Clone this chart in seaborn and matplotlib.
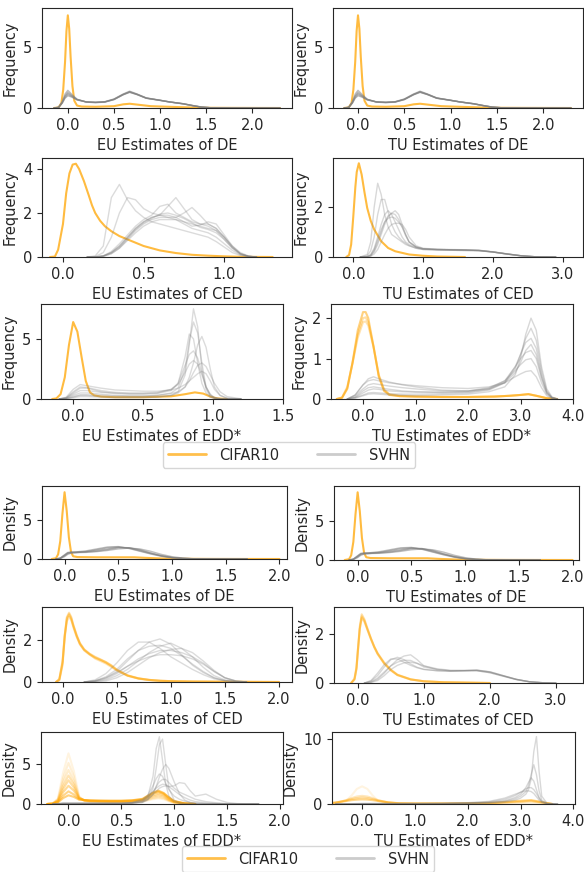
import seaborn as sns
import matplotlib.pyplot as plt
from matplotlib.lines import Line2D

# ---------- data (density values at x points) ----------
# DE, frequency group (EU and TU look the same)
de_f_orange_x = [-0.15, -0.1, -0.07, -0.05, -0.03, -0.015, 0.0, 0.015, 0.03, 0.05, 0.07, 0.1,
                 0.15, 0.3, 0.5, 0.6, 0.67, 0.75, 0.9, 1.1, 1.3, 1.5, 1.8, 2.3]
de_f_orange = [[0, 0.05, 0.4, 1.5, 3.8, 6.3, 7.6, 6.5, 4.2, 1.8, 0.6, 0.2,
                0.12, 0.1, 0.15, 0.3, 0.35, 0.28, 0.15, 0.1, 0.05, 0.02, 0.01, 0]]
de_f_grey_x = [-0.15, -0.1, -0.06, -0.03, 0.0, 0.04, 0.1, 0.2, 0.3, 0.4, 0.5, 0.6, 0.67, 0.75,
               0.85, 1.0, 1.1, 1.25, 1.35, 1.45, 1.55, 1.8, 2.3]
de_f_grey = [
    [0, 0.05, 0.4, 0.8, 1.0, 0.9, 0.65, 0.5, 0.47, 0.5, 0.7, 1.1, 1.3, 1.1, 0.8, 0.63, 0.5, 0.35, 0.2, 0.07, 0.02, 0.005, 0],
    [0, 0.05, 0.45, 0.95, 1.2, 1.0, 0.7, 0.5, 0.46, 0.5, 0.72, 1.12, 1.32, 1.12, 0.82, 0.63, 0.5, 0.34, 0.2, 0.07, 0.02, 0.005, 0],
    [0, 0.06, 0.55, 1.15, 1.45, 1.15, 0.72, 0.48, 0.44, 0.48, 0.68, 1.08, 1.28, 1.1, 0.8, 0.62, 0.5, 0.34, 0.2, 0.07, 0.02, 0.005, 0],
    [0, 0.05, 0.42, 0.85, 1.1, 0.95, 0.68, 0.5, 0.47, 0.52, 0.74, 1.15, 1.38, 1.15, 0.83, 0.64, 0.5, 0.35, 0.21, 0.08, 0.02, 0.005, 0],
    [0, 0.05, 0.48, 1.0, 1.3, 1.05, 0.7, 0.49, 0.45, 0.49, 0.7, 1.1, 1.34, 1.13, 0.81, 0.63, 0.5, 0.35, 0.2, 0.07, 0.02, 0.005, 0],
]

# EU CED, frequency
eu_ced_f_orange_x = [-0.08, -0.05, -0.03, 0.0, 0.02, 0.04, 0.06, 0.08, 0.1, 0.13, 0.16, 0.18, 0.2,
                     0.23, 0.26, 0.3, 0.35, 0.4, 0.5, 0.6, 0.7, 0.8, 0.9, 1.0, 1.1, 1.3]
eu_ced_f_orange = [[0, 0.02, 0.33, 1.5, 2.9, 3.8, 4.2, 4.24, 4.0, 3.45, 2.8, 2.35, 2.0,
                    1.65, 1.4, 1.17, 0.95, 0.8, 0.5, 0.3, 0.18, 0.1, 0.06, 0.03, 0.01, 0]]
eu_ced_f_grey_x = [0.15, 0.2, 0.25, 0.3, 0.35, 0.4, 0.45, 0.5, 0.55, 0.6, 0.65, 0.7, 0.75, 0.8,
                   0.85, 0.9, 0.95, 1.0, 1.05, 1.1, 1.15, 1.2]
eu_ced_f_grey = [
    [0, 0.05, 0.5, 2.7, 3.3, 2.6, 2.1, 1.8, 1.6, 1.5, 1.4, 1.3, 1.2, 1.1, 1.0, 0.9, 0.7, 0.45, 0.2, 0.07, 0.02, 0],
    [0, 0.02, 0.2, 0.9, 2.0, 2.7, 2.6, 2.2, 2.0, 1.9, 1.8, 1.7, 1.5, 1.3, 1.2, 1.1, 0.9, 0.6, 0.3, 0.1, 0.02, 0],
    [0, 0, 0.05, 0.2, 0.5, 0.9, 1.3, 1.6, 1.8, 1.9, 2.3, 2.7, 2.2, 1.7, 1.5, 1.4, 1.2, 0.8, 0.4, 0.15, 0.03, 0],
    [0, 0, 0.05, 0.25, 0.6, 1.0, 1.4, 1.7, 1.9, 2.3, 2.4, 2.0, 1.8, 1.6, 1.5, 1.5, 1.3, 0.9, 0.45, 0.15, 0.03, 0],
    [0, 0, 0.03, 0.15, 0.4, 0.8, 1.2, 1.5, 1.7, 1.8, 1.8, 1.8, 2.0, 2.25, 1.9, 1.5, 1.3, 0.9, 0.45, 0.15, 0.03, 0],
    [0, 0, 0.05, 0.2, 0.5, 0.9, 1.3, 1.6, 1.8, 1.9, 1.9, 1.8, 1.6, 1.4, 1.45, 1.6, 1.5, 1.0, 0.5, 0.15, 0.03, 0],
    [0, 0, 0.03, 0.15, 0.4, 0.75, 1.1, 1.4, 1.6, 1.7, 1.7, 1.7, 1.6, 1.5, 1.4, 1.3, 1.2, 0.9, 0.5, 0.2, 0.05, 0],
    [0, 0, 0.04, 0.2, 0.45, 0.85, 1.25, 1.55, 1.75, 1.95, 2.0, 1.9, 1.75, 1.55, 1.35, 1.25, 1.1, 0.8, 0.4, 0.12, 0.03, 0],
]

# TU CED, frequency
tu_ced_f_orange_x = [-0.1, -0.06, -0.03, 0.0, 0.03, 0.05, 0.08, 0.12, 0.16, 0.2, 0.25, 0.3, 0.4, 0.5,
                     0.6, 0.8, 1.0, 1.2, 1.6]
tu_ced_f_orange = [[0, 0.08, 0.5, 1.6, 2.8, 3.4, 3.75, 3.3, 2.6, 1.96, 1.45, 1.1, 0.63, 0.36,
                    0.23, 0.1, 0.05, 0.02, 0]]
tu_ced_f_grey_x = [0.1, 0.2, 0.25, 0.3, 0.35, 0.4, 0.45, 0.5, 0.55, 0.6, 0.65, 0.7, 0.75, 0.8,
                   0.9, 1.0, 1.2, 1.4, 1.6, 1.8, 2.0, 2.2, 2.4, 2.6, 2.9]
tu_ced_f_grey = [
    [0, 0.1, 0.6, 2.0, 2.95, 2.5, 1.7, 1.2, 0.9, 0.8, 0.7, 0.6, 0.5, 0.45, 0.35, 0.3, 0.28, 0.27, 0.26, 0.25, 0.2, 0.12, 0.05, 0.01, 0],
    [0, 0.05, 0.25, 0.8, 1.7, 2.3, 2.3, 1.8, 1.3, 1.0, 0.8, 0.65, 0.55, 0.45, 0.35, 0.3, 0.28, 0.27, 0.26, 0.25, 0.2, 0.12, 0.05, 0.01, 0],
    [0, 0.02, 0.1, 0.35, 0.8, 1.3, 1.7, 1.85, 1.7, 1.4, 1.1, 0.8, 0.6, 0.5, 0.38, 0.32, 0.3, 0.29, 0.28, 0.27, 0.2, 0.12, 0.05, 0.01, 0],
    [0, 0.01, 0.05, 0.2, 0.5, 0.9, 1.3, 1.6, 1.75, 1.85, 1.7, 1.3, 0.9, 0.6, 0.4, 0.33, 0.3, 0.29, 0.28, 0.26, 0.2, 0.12, 0.05, 0.01, 0],
    [0, 0.01, 0.08, 0.3, 0.7, 1.1, 1.4, 1.55, 1.6, 1.55, 1.4, 1.2, 0.9, 0.6, 0.4, 0.33, 0.3, 0.29, 0.28, 0.26, 0.2, 0.12, 0.05, 0.01, 0],
    [0, 0, 0.03, 0.12, 0.3, 0.6, 0.9, 1.15, 1.3, 1.35, 1.35, 1.3, 1.1, 0.8, 0.45, 0.35, 0.31, 0.3, 0.29, 0.27, 0.21, 0.13, 0.05, 0.01, 0],
    [0, 0.01, 0.05, 0.25, 0.6, 1.0, 1.4, 1.65, 1.75, 1.7, 1.5, 1.2, 0.85, 0.6, 0.4, 0.33, 0.3, 0.29, 0.28, 0.26, 0.2, 0.12, 0.05, 0.01, 0],
]

# EU EDD*, frequency
eu_edd_f_orange_x = [-0.15, -0.12, -0.09, -0.06, -0.03, 0.0, 0.03, 0.06, 0.09, 0.12, 0.15, 0.2,
                     0.3, 0.5, 0.7, 0.8, 0.87, 0.93, 0.98, 1.03, 1.1]
eu_edd_f_orange = [[0, 0.05, 0.4, 1.8, 4.5, 6.4, 5.6, 3.5, 1.5, 0.55, 0.3, 0.2,
                    0.15, 0.15, 0.22, 0.4, 0.55, 0.45, 0.2, 0.05, 0]]
eu_edd_f_grey_x = [-0.1, -0.05, 0.0, 0.05, 0.1, 0.2, 0.3, 0.4, 0.5, 0.6, 0.7, 0.75, 0.8, 0.83,
                   0.86, 0.89, 0.92, 0.95, 0.98, 1.01, 1.05, 1.1, 1.2]
eu_edd_f_grey = [
    [0, 0.02, 0.1, 0.2, 0.2, 0.15, 0.12, 0.12, 0.13, 0.15, 0.3, 0.6, 2.0, 4.5, 7.5, 6.0, 2.5, 0.8, 0.2, 0.05, 0.01, 0, 0],
    [0, 0.05, 0.3, 0.5, 0.5, 0.4, 0.3, 0.25, 0.25, 0.3, 0.5, 0.9, 2.5, 4.8, 6.4, 5.5, 3.0, 1.0, 0.3, 0.08, 0.02, 0, 0],
    [0, 0.1, 0.5, 0.9, 0.9, 0.6, 0.45, 0.4, 0.4, 0.45, 0.7, 1.3, 3.5, 5.4, 5.0, 3.0, 1.3, 0.5, 0.15, 0.05, 0.01, 0, 0],
    [0, 0.02, 0.15, 0.3, 0.3, 0.2, 0.15, 0.15, 0.15, 0.18, 0.3, 0.5, 1.0, 1.8, 3.0, 4.5, 5.2, 4.3, 2.5, 1.0, 0.3, 0.05, 0],
    [0, 0.08, 0.4, 0.7, 0.7, 0.55, 0.5, 0.45, 0.45, 0.5, 0.8, 1.3, 2.8, 3.7, 4.0, 3.4, 2.2, 1.0, 0.35, 0.1, 0.02, 0, 0],
    [0, 0.15, 0.8, 1.2, 1.1, 0.9, 0.75, 0.7, 0.65, 0.65, 0.75, 0.9, 1.2, 1.5, 1.8, 2.1, 2.3, 2.1, 1.5, 0.8, 0.3, 0.08, 0],
    [0, 0.1, 0.6, 1.0, 0.95, 0.7, 0.55, 0.5, 0.5, 0.55, 0.8, 1.2, 2.2, 2.9, 3.2, 2.9, 2.0, 1.0, 0.4, 0.12, 0.03, 0, 0],
    [0, 0.03, 0.2, 0.35, 0.35, 0.3, 0.25, 0.25, 0.25, 0.3, 0.45, 0.6, 1.0, 1.5, 2.2, 2.8, 3.0, 2.7, 2.0, 1.3, 0.6, 0.2, 0.02],
]

# TU EDD*, frequency
tu_edd_f_orange_x = [-0.5, -0.4, -0.3, -0.2, -0.1, 0.0, 0.05, 0.1, 0.2, 0.3, 0.4, 0.5, 0.7, 1.0,
                     1.5, 2.0, 2.5, 2.8, 3.0, 3.15, 3.3, 3.5, 3.7]
tu_edd_f_orange = [
    [0, 0.03, 0.25, 0.9, 1.7, 2.15, 2.15, 2.0, 1.3, 0.55, 0.2, 0.1, 0.07, 0.06, 0.05, 0.05, 0.06, 0.08, 0.1, 0.12, 0.08, 0.02, 0],
    [0, 0.03, 0.27, 0.9, 1.6, 2.0, 2.02, 1.9, 1.3, 0.58, 0.22, 0.11, 0.07, 0.06, 0.05, 0.05, 0.06, 0.08, 0.1, 0.12, 0.08, 0.02, 0],
    [0, 0.04, 0.3, 0.88, 1.52, 1.9, 1.92, 1.82, 1.28, 0.6, 0.24, 0.12, 0.08, 0.06, 0.05, 0.05, 0.06, 0.08, 0.1, 0.12, 0.08, 0.02, 0],
]
tu_edd_f_grey_x = [-0.3, -0.15, 0.0, 0.1, 0.2, 0.3, 0.5, 0.75, 1.0, 1.5, 2.0, 2.4, 2.7, 2.9, 3.0,
                   3.1, 3.2, 3.3, 3.4, 3.5, 3.6, 3.7]
tu_edd_f_grey = [
    [0, 0.02, 0.08, 0.12, 0.13, 0.12, 0.1, 0.09, 0.08, 0.1, 0.12, 0.18, 0.3, 0.6, 1.0, 1.6, 2.0, 1.7, 0.8, 0.25, 0.05, 0],
    [0, 0.03, 0.1, 0.15, 0.16, 0.15, 0.13, 0.12, 0.12, 0.13, 0.15, 0.22, 0.4, 0.75, 1.1, 1.5, 1.75, 1.45, 0.7, 0.2, 0.04, 0],
    [0, 0.1, 0.35, 0.5, 0.55, 0.5, 0.42, 0.35, 0.3, 0.22, 0.2, 0.25, 0.4, 0.65, 0.9, 1.2, 1.35, 1.1, 0.55, 0.15, 0.03, 0],
    [0, 0.08, 0.25, 0.35, 0.38, 0.36, 0.32, 0.28, 0.25, 0.2, 0.2, 0.28, 0.45, 0.7, 0.85, 0.97, 1.0, 0.8, 0.4, 0.12, 0.02, 0],
    [0, 0.1, 0.35, 0.45, 0.48, 0.45, 0.4, 0.36, 0.33, 0.28, 0.26, 0.3, 0.4, 0.55, 0.62, 0.68, 0.7, 0.55, 0.28, 0.08, 0.01, 0],
    [0, 0.05, 0.2, 0.28, 0.3, 0.28, 0.24, 0.2, 0.18, 0.16, 0.17, 0.24, 0.42, 0.8, 1.1, 1.4, 1.5, 1.25, 0.6, 0.18, 0.03, 0],
    [0, 0.04, 0.15, 0.22, 0.25, 0.24, 0.2, 0.18, 0.17, 0.17, 0.19, 0.26, 0.45, 0.8, 1.0, 1.15, 1.2, 1.0, 0.5, 0.15, 0.03, 0],
]

# DE, density group (EU and TU look the same)
de_d_orange_x = [-0.12, -0.08, -0.06, -0.04, -0.02, 0.0, 0.02, 0.04, 0.06, 0.08, 0.12, 0.3, 0.5,
                 0.65, 0.75, 0.9, 1.1, 1.4, 2.0]
de_d_orange = [[0, 0.1, 0.6, 2.3, 5.8, 8.6, 6.2, 2.8, 0.9, 0.35, 0.25, 0.22, 0.22,
                0.22, 0.15, 0.07, 0.03, 0.01, 0]]
de_d_grey_x = [-0.08, -0.04, 0.0, 0.03, 0.06, 0.1, 0.2, 0.3, 0.4, 0.5, 0.6, 0.7, 0.8, 0.9, 1.0,
               1.1, 1.2, 1.4, 1.7]
de_d_grey = [
    [0, 0.1, 0.5, 0.8, 0.85, 0.85, 0.9, 1.0, 1.2, 1.45, 1.45, 1.2, 0.8, 0.45, 0.2, 0.08, 0.03, 0.01, 0],
    [0, 0.05, 0.3, 0.6, 0.75, 0.8, 0.95, 1.2, 1.45, 1.55, 1.4, 1.05, 0.7, 0.4, 0.18, 0.07, 0.03, 0.01, 0],
    [0, 0.1, 0.45, 0.75, 0.85, 0.9, 1.05, 1.3, 1.55, 1.6, 1.35, 1.0, 0.65, 0.35, 0.15, 0.06, 0.02, 0.01, 0],
    [0, 0.08, 0.4, 0.7, 0.8, 0.82, 0.85, 0.95, 1.1, 1.3, 1.4, 1.3, 1.0, 0.6, 0.3, 0.12, 0.04, 0.01, 0],
    [0, 0.12, 0.55, 0.85, 0.9, 0.9, 0.95, 1.1, 1.3, 1.5, 1.45, 1.15, 0.75, 0.4, 0.18, 0.07, 0.03, 0.01, 0],
]

# EU CED, density
eu_ced_d_orange_x = [-0.06, -0.03, 0.0, 0.02, 0.04, 0.06, 0.08, 0.1, 0.13, 0.16, 0.2, 0.25, 0.3,
                     0.35, 0.4, 0.45, 0.5, 0.6, 0.7, 0.8, 0.9, 1.0, 1.2, 1.5, 2.0]
eu_ced_d_orange = [
    [0, 0.1, 0.9, 2.2, 3.1, 3.3, 3.1, 2.7, 2.2, 1.8, 1.5, 1.3, 1.15, 1.05, 0.95, 0.8, 0.6, 0.32, 0.18, 0.1, 0.06, 0.04, 0.02, 0.01, 0],
    [0, 0.15, 1.0, 2.2, 2.9, 3.1, 2.95, 2.65, 2.2, 1.85, 1.55, 1.35, 1.2, 1.08, 0.95, 0.78, 0.58, 0.3, 0.16, 0.09, 0.05, 0.03, 0.02, 0.01, 0],
    [0, 0.08, 0.8, 2.1, 3.0, 3.25, 3.05, 2.7, 2.25, 1.85, 1.55, 1.32, 1.12, 1.0, 0.88, 0.72, 0.55, 0.3, 0.17, 0.1, 0.06, 0.04, 0.02, 0.01, 0],
    [0, 0.12, 0.95, 2.25, 3.05, 3.2, 3.0, 2.6, 2.15, 1.8, 1.52, 1.33, 1.18, 1.06, 0.92, 0.76, 0.57, 0.31, 0.17, 0.1, 0.06, 0.04, 0.02, 0.01, 0],
]
eu_ced_d_grey_x = [0.2, 0.3, 0.4, 0.5, 0.6, 0.7, 0.8, 0.9, 1.0, 1.1, 1.2, 1.3, 1.4, 1.5, 1.6, 1.7]
eu_ced_d_grey = [
    [0, 0.1, 0.4, 0.9, 1.5, 1.9, 1.9, 1.6, 1.2, 0.9, 0.6, 0.35, 0.15, 0.05, 0.01, 0],
    [0, 0.05, 0.2, 0.5, 1.0, 1.5, 1.9, 2.05, 1.8, 1.3, 0.8, 0.45, 0.2, 0.06, 0.01, 0],
    [0, 0.02, 0.1, 0.3, 0.6, 1.0, 1.4, 1.7, 1.85, 1.6, 1.2, 0.7, 0.3, 0.1, 0.02, 0],
    [0, 0.03, 0.15, 0.4, 0.75, 1.1, 1.35, 1.5, 1.5, 1.4, 1.2, 0.9, 0.5, 0.2, 0.05, 0],
    [0, 0.05, 0.2, 0.45, 0.75, 1.0, 1.2, 1.3, 1.3, 1.25, 1.1, 0.85, 0.5, 0.2, 0.05, 0],
    [0, 0.06, 0.25, 0.6, 1.1, 1.5, 1.7, 1.75, 1.6, 1.25, 0.85, 0.5, 0.2, 0.07, 0.01, 0],
    [0, 0.01, 0.05, 0.2, 0.45, 0.8, 1.15, 1.4, 1.55, 1.6, 1.4, 1.0, 0.55, 0.2, 0.05, 0],
]

# TU CED, density
tu_ced_d_orange_x = [-0.1, -0.05, -0.02, 0.0, 0.03, 0.06, 0.1, 0.15, 0.2, 0.25, 0.3, 0.4, 0.5, 0.6,
                     0.8, 1.0, 1.3, 2.0]
tu_ced_d_orange = [
    [0, 0.15, 0.6, 1.3, 2.3, 2.8, 2.6, 2.2, 1.82, 1.48, 1.2, 0.8, 0.52, 0.32, 0.14, 0.07, 0.03, 0],
    [0, 0.18, 0.65, 1.3, 2.2, 2.65, 2.5, 2.15, 1.8, 1.48, 1.22, 0.83, 0.55, 0.34, 0.15, 0.07, 0.03, 0],
    [0, 0.14, 0.55, 1.2, 2.2, 2.72, 2.55, 2.15, 1.78, 1.45, 1.18, 0.79, 0.52, 0.33, 0.15, 0.07, 0.03, 0],
]
tu_ced_d_grey_x = [0.1, 0.2, 0.3, 0.4, 0.5, 0.6, 0.7, 0.8, 0.9, 1.0, 1.2, 1.4, 1.6, 1.8, 2.0,
                   2.2, 2.4, 2.6, 2.8, 3.0]
tu_ced_d_grey = [
    [0, 0.03, 0.15, 0.4, 0.7, 0.95, 1.1, 1.15, 0.95, 0.7, 0.55, 0.5, 0.5, 0.5, 0.42, 0.28, 0.14, 0.05, 0.01, 0],
    [0, 0.1, 0.4, 0.75, 0.98, 0.98, 0.85, 0.72, 0.62, 0.55, 0.5, 0.48, 0.5, 0.52, 0.45, 0.3, 0.15, 0.05, 0.01, 0],
    [0, 0.05, 0.2, 0.45, 0.7, 0.85, 0.93, 0.92, 0.8, 0.65, 0.55, 0.5, 0.5, 0.5, 0.42, 0.28, 0.14, 0.05, 0.01, 0],
    [0, 0.02, 0.1, 0.3, 0.55, 0.72, 0.82, 0.85, 0.8, 0.7, 0.58, 0.52, 0.52, 0.52, 0.45, 0.3, 0.15, 0.05, 0.01, 0],
    [0, 0.08, 0.3, 0.65, 0.95, 1.05, 0.95, 0.78, 0.64, 0.56, 0.5, 0.48, 0.5, 0.53, 0.46, 0.3, 0.15, 0.05, 0.01, 0],
]

# EU EDD*, density
eu_edd_d_orange_x = [-0.2, -0.15, -0.1, -0.05, 0.0, 0.05, 0.1, 0.15, 0.2, 0.3, 0.4, 0.5, 0.6, 0.7,
                     0.75, 0.8, 0.85, 0.9, 0.95, 1.0, 1.1, 1.2]
eu_edd_d_orange = [
    [0, 0.05, 0.7, 4.0, 6.4, 4.2, 1.0, 0.35, 0.25, 0.2, 0.18, 0.18, 0.2, 0.3, 0.45, 0.6, 0.7, 0.6, 0.35, 0.15, 0.03, 0],
    [0, 0.05, 0.6, 3.3, 5.2, 3.5, 0.9, 0.4, 0.3, 0.25, 0.22, 0.22, 0.25, 0.35, 0.5, 0.7, 0.8, 0.7, 0.4, 0.17, 0.03, 0],
    [0, 0.06, 0.55, 2.8, 4.3, 2.9, 0.85, 0.45, 0.35, 0.3, 0.27, 0.27, 0.3, 0.4, 0.6, 0.8, 0.95, 0.8, 0.45, 0.2, 0.04, 0],
    [0, 0.05, 0.45, 2.3, 3.6, 2.5, 0.8, 0.45, 0.38, 0.33, 0.3, 0.3, 0.33, 0.45, 0.7, 0.95, 1.1, 0.95, 0.5, 0.22, 0.04, 0],
    [0, 0.04, 0.4, 1.9, 3.0, 2.1, 0.75, 0.48, 0.4, 0.35, 0.33, 0.33, 0.36, 0.5, 0.8, 1.1, 1.3, 1.1, 0.6, 0.25, 0.05, 0],
    [0, 0.04, 0.3, 1.5, 2.3, 1.7, 0.7, 0.5, 0.42, 0.38, 0.36, 0.36, 0.4, 0.55, 0.9, 1.3, 1.5, 1.25, 0.7, 0.3, 0.06, 0],
    [0, 0.03, 0.25, 1.05, 1.6, 1.2, 0.6, 0.5, 0.45, 0.42, 0.4, 0.4, 0.45, 0.6, 1.0, 1.4, 1.6, 1.35, 0.8, 0.35, 0.07, 0],
    [0, 0.02, 0.2, 0.75, 1.1, 0.9, 0.55, 0.48, 0.45, 0.43, 0.42, 0.42, 0.47, 0.65, 1.05, 1.45, 1.7, 1.4, 0.85, 0.38, 0.08, 0],
]
eu_edd_d_orange_alpha = [0.12, 0.16, 0.2, 0.3, 0.35, 0.4, 0.45, 0.5]
eu_edd_d_grey_x = [-0.15, -0.05, 0.3, 0.5, 0.6, 0.7, 0.75, 0.8, 0.83, 0.86, 0.89, 0.92, 0.95, 1.0,
                   1.05, 1.1, 1.15, 1.2, 1.3, 1.4, 1.5, 1.6, 1.8]
eu_edd_d_grey = [
    [0, 0.06, 0.06, 0.06, 0.1, 0.3, 0.9, 3.5, 7.0, 8.5, 5.5, 2.5, 1.0, 0.3, 0.1, 0.05, 0.02, 0.01, 0, 0, 0, 0, 0],
    [0, 0.06, 0.06, 0.06, 0.1, 0.2, 0.6, 2.0, 4.5, 7.5, 8.2, 5.0, 2.0, 0.5, 0.15, 0.05, 0.02, 0.01, 0, 0, 0, 0, 0],
    [0, 0.06, 0.06, 0.06, 0.1, 0.2, 0.5, 1.2, 2.2, 3.4, 4.4, 5.0, 4.5, 2.8, 1.3, 0.5, 0.2, 0.1, 0.03, 0.01, 0, 0, 0],
    [0, 0.08, 0.08, 0.08, 0.15, 0.5, 1.1, 2.3, 3.2, 3.8, 3.5, 2.6, 1.8, 1.0, 0.6, 0.35, 0.2, 0.12, 0.05, 0.02, 0, 0, 0],
    [0, 0.08, 0.08, 0.08, 0.15, 0.4, 0.8, 1.5, 2.2, 2.8, 3.1, 3.1, 2.7, 2.0, 1.5, 1.2, 0.9, 0.6, 0.3, 0.15, 0.05, 0.01, 0],
    [0, 0.06, 0.06, 0.06, 0.1, 0.3, 0.6, 1.2, 1.6, 2.0, 2.2, 2.3, 2.2, 2.3, 2.7, 2.6, 1.7, 1.0, 1.25, 0.6, 0.2, 0.05, 0],
    [0, 0.1, 0.1, 0.1, 0.2, 0.6, 1.0, 1.6, 2.0, 2.3, 2.5, 2.45, 2.2, 1.7, 1.2, 0.8, 0.5, 0.3, 0.15, 0.07, 0.02, 0, 0],
]

# TU EDD*, density
tu_edd_d_orange_x = [-0.7, -0.5, -0.3, -0.2, -0.1, 0.0, 0.1, 0.2, 0.3, 0.5, 0.7, 1.0, 1.5, 2.0,
                     2.5, 3.0, 3.2, 3.4, 3.6]
tu_edd_d_orange = [
    [0, 0.05, 0.5, 1.3, 2.3, 2.7, 2.3, 1.3, 0.5, 0.1, 0.05, 0.04, 0.04, 0.05, 0.07, 0.15, 0.2, 0.1, 0],
    [0, 0.15, 0.6, 0.9, 1.15, 1.25, 1.15, 0.9, 0.6, 0.2, 0.08, 0.06, 0.06, 0.08, 0.12, 0.3, 0.4, 0.2, 0],
    [0.02, 0.2, 0.55, 0.75, 0.9, 0.98, 0.92, 0.75, 0.55, 0.25, 0.1, 0.07, 0.07, 0.09, 0.15, 0.4, 0.5, 0.25, 0],
    [0.05, 0.25, 0.45, 0.58, 0.66, 0.7, 0.67, 0.58, 0.45, 0.25, 0.12, 0.08, 0.08, 0.1, 0.2, 0.5, 0.6, 0.3, 0],
]
tu_edd_d_orange_alpha = [0.12, 0.25, 0.35, 0.45]
tu_edd_d_grey_x = [-0.5, 0.0, 0.5, 1.0, 1.5, 2.0, 2.4, 2.7, 2.9, 3.0, 3.1, 3.15, 3.2, 3.25, 3.3,
                   3.35, 3.4, 3.5, 3.7]
tu_edd_d_grey = [
    [0, 0.03, 0.03, 0.03, 0.04, 0.07, 0.15, 0.3, 0.6, 0.9, 1.5, 2.2, 3.8, 8.0, 10.3, 5.0, 1.2, 0.1, 0],
    [0, 0.04, 0.04, 0.04, 0.05, 0.1, 0.2, 0.4, 0.8, 1.2, 1.9, 2.8, 4.5, 6.0, 4.5, 2.0, 0.6, 0.05, 0],
    [0, 0.05, 0.05, 0.05, 0.07, 0.12, 0.25, 0.5, 1.0, 1.5, 2.5, 3.3, 4.0, 3.5, 2.2, 1.0, 0.35, 0.04, 0],
    [0, 0.06, 0.06, 0.06, 0.08, 0.15, 0.3, 0.7, 1.3, 1.8, 2.3, 2.5, 2.5, 2.2, 1.6, 0.9, 0.4, 0.06, 0],
    [0, 0.08, 0.08, 0.08, 0.1, 0.2, 0.4, 0.9, 1.5, 1.8, 2.0, 2.0, 1.9, 1.6, 1.1, 0.6, 0.25, 0.04, 0],
]

legend_labels = ["CIFAR10", "SVHN"]

# ---------- drawing ----------
sns.set_style("ticks")
plt.rcParams["font.family"] = ["DejaVu Sans"]
plt.rcParams["font.size"] = 10.5

W, H = 584, 872
fig = plt.figure(figsize=(W / 100, H / 100), dpi=100)

ORANGE = "orange"
GREY = "grey"


def add_ax(x0, y0, x1, y1):
    return fig.add_axes([x0 / W, 1 - y1 / H, (x1 - x0) / W, (y1 - y0) / H])


def draw(ax, ox, ocurves, gx, gcurves, oalpha, galpha):
    if not isinstance(oalpha, list):
        oalpha = [oalpha] * len(ocurves)
    for ys, a in zip(ocurves, oalpha):
        sns.lineplot(x=ox, y=ys, ax=ax, color=ORANGE, alpha=a, lw=1.5)
    for ys in gcurves:
        sns.lineplot(x=gx, y=ys, ax=ax, color=GREY, alpha=galpha, lw=1)


def style(ax, xlabel, ylabel, xlim, ylim, xticks, yticks):
    ax.set_xlim(*xlim)
    ax.set_ylim(*ylim)
    ax.set_xticks(xticks)
    ax.set_xticklabels([f"{t:.1f}" for t in xticks])
    ax.set_yticks(yticks)
    ax.set_xlabel(xlabel)
    ax.set_ylabel(ylabel)


panels = [
    # box, data (orange x, orange, grey x, grey, orange alpha, grey alpha), labels, limits, ticks
    ((42, 8, 292, 108), (de_f_orange_x, de_f_orange, de_f_grey_x, de_f_grey, 0.75, 0.5),
     "EU Estimates of DE", "Frequency", (-0.28, 2.43), (0, 8.2), [0, 0.5, 1.0, 1.5, 2.0], [0, 5]),
    ((333, 8, 583, 108), (de_f_orange_x, de_f_orange, de_f_grey_x, de_f_grey, 0.75, 0.5),
     "TU Estimates of DE", "Frequency", (-0.27, 2.43), (0, 8.2), [0, 0.5, 1.0, 1.5, 2.0], [0, 5]),
    ((42, 158, 292, 257), (eu_ced_f_orange_x, eu_ced_f_orange, eu_ced_f_grey_x, eu_ced_f_grey, 0.75, 0.28),
     "EU Estimates of CED", "Frequency", (-0.13, 1.42), (0, 4.5), [0, 0.5, 1.0], [0, 2, 4]),
    ((333, 158, 583, 257), (tu_ced_f_orange_x, tu_ced_f_orange, tu_ced_f_grey_x, tu_ced_f_grey, 0.75, 0.3),
     "TU Estimates of CED", "Frequency", (-0.29, 3.29), (0, 3.96), [0, 1.0, 2.0, 3.0], [0, 2]),
    ((41, 304, 283, 399), (eu_edd_f_orange_x, eu_edd_f_orange, eu_edd_f_grey_x, eu_edd_f_grey, 0.75, 0.28),
     "EU Estimates of EDD*", "Frequency", (-0.23, 1.5), (0, 7.9), [0, 0.5, 1.0, 1.5], [0, 5]),
    ((331, 304, 573, 399), (tu_edd_f_orange_x, tu_edd_f_orange, tu_edd_f_grey_x, tu_edd_f_grey, [0.5, 0.35, 0.3], 0.3),
     "TU Estimates of EDD*", "Frequency", (-0.61, 4.0), (0, 2.35), [0, 1.0, 2.0, 3.0, 4.0], [0, 1, 2]),
    ((42, 486, 287, 559), (de_d_orange_x, de_d_orange, de_d_grey_x, de_d_grey, 0.75, 0.5),
     "EU Estimates of DE", "Density", (-0.21, 2.07), (0, 9.4), [0, 0.5, 1.0, 1.5, 2.0], [0, 5]),
    ((334, 486, 579, 560), (de_d_orange_x, de_d_orange, de_d_grey_x, de_d_grey, 0.75, 0.5),
     "TU Estimates of DE", "Density", (-0.22, 2.06), (0, 9.4), [0, 0.5, 1.0, 1.5, 2.0], [0, 5]),
    ((42, 607, 292, 682), (eu_ced_d_orange_x, eu_ced_d_orange, eu_ced_d_grey_x, eu_ced_d_grey, 0.3, 0.28),
     "EU Estimates of CED", "Density", (-0.19, 2.12), (0, 3.57), [0, 0.5, 1.0, 1.5, 2.0], [0, 2]),
    ((334, 607, 583, 683), (tu_ced_d_orange_x, tu_ced_d_orange, tu_ced_d_grey_x, tu_ced_d_grey, 0.35, 0.3),
     "TU Estimates of CED", "Density", (-0.36, 3.41), (0, 3.1), [0, 1.0, 2.0, 3.0], [0, 2]),
    ((41, 732, 283, 804), (eu_edd_d_orange_x, eu_edd_d_orange, eu_edd_d_grey_x, eu_edd_d_grey, eu_edd_d_orange_alpha, 0.28),
     "EU Estimates of EDD*", "Density", (-0.26, 2.03), (0, 9.1), [0, 0.5, 1.0, 1.5, 2.0], [0, 5]),
    ((332, 732, 575, 804), (tu_edd_d_orange_x, tu_edd_d_orange, tu_edd_d_grey_x, tu_edd_d_grey, tu_edd_d_orange_alpha, 0.3),
     "TU Estimates of EDD*", "Density", (-0.57, 4.03), (0, 11), [0, 1.0, 2.0, 3.0, 4.0], [0, 10]),
]

for box, (ox, oc, gx, gc, oa, ga), xl, yl, xlim, ylim, xt, yt in panels:
    ax = add_ax(*box)
    draw(ax, ox, oc, gx, gc, oa, ga)
    style(ax, xl, yl, xlim, ylim, xt, yt)

handles = [Line2D([], [], color=ORANGE, alpha=0.7, lw=2),
           Line2D([], [], color=GREY, alpha=0.4, lw=2)]
for cx, cy in [(289 / W, 1 - 455 / H), (308 / W, 1 - 859 / H)]:
    fig.legend(handles, legend_labels, loc="center", bbox_to_anchor=(cx, cy), ncol=2,
               handlelength=2.6, columnspacing=2.6, handletextpad=0.9, frameon=True)

fig.savefig("out.png", dpi=100)
